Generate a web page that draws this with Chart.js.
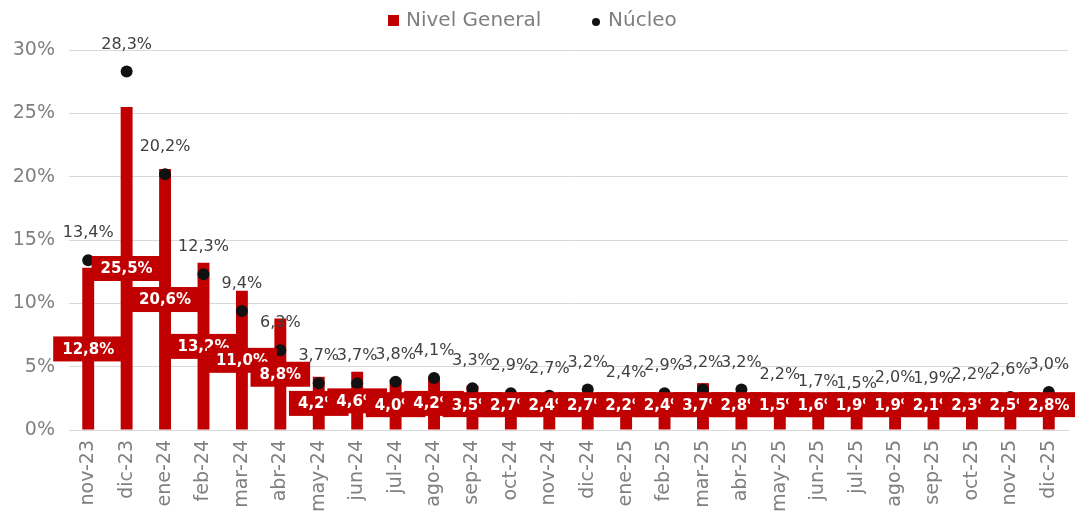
<!DOCTYPE html>
<html>
<head>
<meta charset="utf-8">
<script src="https://cdn.jsdelivr.net/npm/chart.js@4.4.1/dist/chart.umd.min.js"></script>
<style>
  html, body { margin: 0; padding: 0; background: #fff; }
  #wrap { position: relative; width: 1075px; height: 512px; }
</style>
</head>
<body>
<div id="wrap"><canvas id="chart"></canvas></div>
<script>
const months = ['nov-23', 'dic-23', 'ene-24', 'feb-24', 'mar-24', 'abr-24', 'may-24', 'jun-24', 'jul-24', 'ago-24',
  'sep-24', 'oct-24', 'nov-24', 'dic-24', 'ene-25', 'feb-25', 'mar-25', 'abr-25', 'may-25', 'jun-25',
  'jul-25', 'ago-25', 'sep-25', 'oct-25', 'nov-25', 'dic-25'];
const nivelGeneral = [12.8, 25.5, 20.6, 13.2, 11.0, 8.8, 4.2, 4.6, 4.0, 4.2,
  3.5, 2.7, 2.4, 2.7, 2.2, 2.4, 3.7, 2.8, 1.5, 1.6,
  1.9, 1.9, 2.1, 2.3, 2.5, 2.8];
const nucleo = [13.4, 28.3, 20.2, 12.3, 9.4, 6.3, 3.7, 3.7, 3.8, 4.1,
  3.3, 2.9, 2.7, 3.2, 2.4, 2.9, 3.2, 3.2, 2.2, 1.7,
  1.5, 2.0, 1.9, 2.2, 2.6, 3.0];
const yTicks = [0, 5, 10, 15, 20, 25, 30];

const RED = '#c00000';
const fmt = v => v.toFixed(1).replace('.', ',') + '%';

// boxed labels on the bars, plain labels over the dots, and the legend row
const labelsPlugin = {
  id: 'labels',
  afterDatasetsDraw(chart) {
    const ctx = chart.ctx;
    const y = chart.scales.y;
    const bars = chart.getDatasetMeta(0).data;
    const dots = chart.getDatasetMeta(1).data;
    ctx.save();

    ctx.font = 'bold 15px "DejaVu Sans"';
    ctx.textAlign = 'center';
    ctx.textBaseline = 'middle';
    bars.forEach((bar, i) => {
      const txt = fmt(nivelGeneral[i]);
      const cy = y.getPixelForValue(Math.max(nivelGeneral[i] / 2, 2));
      const w = ctx.measureText(txt).width + 18;
      const h = 25;
      ctx.fillStyle = RED;
      ctx.fillRect(bar.x - w / 2, cy - h / 2, w, h);
      ctx.fillStyle = '#fff';
      ctx.fillText(txt, bar.x, cy + 1);
    });

    ctx.font = '16px "DejaVu Sans"';
    ctx.fillStyle = '#404040';
    dots.forEach((pt, i) => {
      ctx.fillText(fmt(nucleo[i]), pt.x, pt.y - 27);
    });

    // legend
    ctx.font = '20px "DejaVu Sans"';
    ctx.textAlign = 'left';
    ctx.fillStyle = RED;
    ctx.fillRect(388, 15, 11, 11);
    ctx.fillStyle = '#7f7f7f';
    ctx.fillText('Nivel General', 406, 21);
    ctx.fillStyle = '#111';
    ctx.beginPath();
    ctx.arc(596, 22, 4, 0, Math.PI * 2);
    ctx.fill();
    ctx.fillStyle = '#7f7f7f';
    ctx.fillText('Núcleo', 608, 21);
    ctx.restore();
  }
};

new Chart(document.getElementById('chart'), {
  data: {
    labels: months,
    datasets: [
      {
        type: 'bar',
        label: 'Nivel General',
        data: nivelGeneral,
        backgroundColor: RED,
        categoryPercentage: 1,
        barPercentage: 0.31,
        order: 1
      },
      {
        type: 'line',
        label: 'Núcleo',
        data: nucleo,
        showLine: false,
        pointRadius: 6,
        pointBorderWidth: 0,
        pointBackgroundColor: '#111',
        order: 0
      }
    ]
  },
  options: {
    responsive: true,
    maintainAspectRatio: false,
    animation: false,
    layout: { padding: { top: 50, right: 7, left: 0, bottom: 0 } },
    plugins: {
      legend: { display: false },
      tooltip: { enabled: false }
    },
    scales: {
      x: {
        grid: { display: false },
        border: { color: '#d9d9d9' },
        ticks: {
          color: '#808080',
          font: { family: 'DejaVu Sans', size: 19 },
          minRotation: 90,
          maxRotation: 90,
          autoSkip: false,
          padding: 2
        },
        afterFit: s => { s.height = 82; }
      },
      y: {
        min: 0,
        max: 30,
        afterBuildTicks: s => { s.ticks = yTicks.map(v => ({ value: v })); },
        grid: { color: '#d9d9d9', drawTicks: false },
        border: { display: false },
        ticks: {
          color: '#808080',
          font: { family: 'DejaVu Sans', size: 19 },
          padding: 14,
          callback: v => v + '%'
        },
        afterFit: s => { s.width = 69; }
      }
    }
  },
  plugins: [labelsPlugin]
});
</script>
</body>
</html>
